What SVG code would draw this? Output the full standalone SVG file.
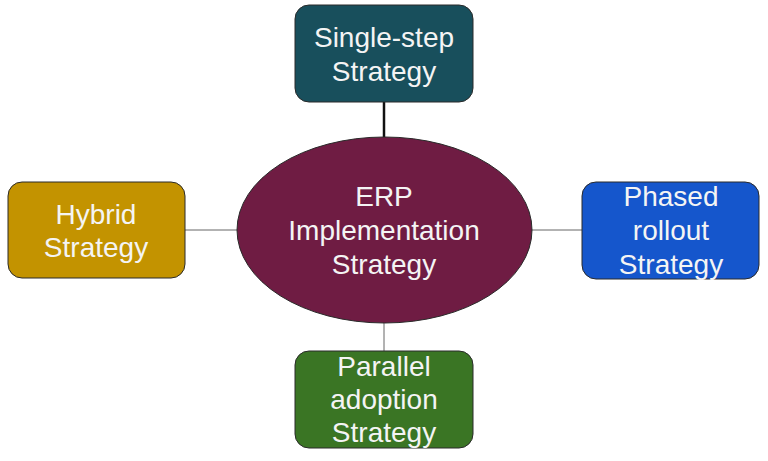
<svg xmlns="http://www.w3.org/2000/svg" width="768" height="461" viewBox="0 0 768 461">
<style>
.box{stroke:#2a2a2a;stroke-width:1}
.t{font-family:"Liberation Sans",Arial,sans-serif;font-size:28px;fill:#f4f4f4;text-anchor:middle}
.thin{stroke:#666;stroke-width:1;fill:none}
</style>
<rect width="768" height="461" fill="#ffffff"/>
<g id="connectors">
<line x1="384" y1="102" x2="384" y2="138" stroke="#111" stroke-width="2.5"/>
<line class="thin" x1="185" y1="230" x2="237" y2="230"/>
<line class="thin" x1="532" y1="230" x2="582" y2="230"/>
<line class="thin" x1="384" y1="322" x2="384" y2="351"/>
</g>
<g id="center">
<ellipse cx="384.5" cy="230" rx="147.5" ry="93" fill="#6f1c43" class="box"/>
<text class="t" x="384" y="206">ERP</text>
<text class="t" x="384" y="240">Implementation</text>
<text class="t" x="384" y="274">Strategy</text>
</g>
<g id="single-step">
<rect x="295" y="5" width="178" height="97" rx="14" fill="#184f5c" class="box"/>
<text class="t" x="384" y="47">Single-step</text>
<text class="t" x="384" y="81">Strategy</text>
</g>
<g id="hybrid">
<rect x="8" y="182" width="177" height="96" rx="14" fill="#c39300" class="box"/>
<text class="t" x="96" y="224">Hybrid</text>
<text class="t" x="96" y="257">Strategy</text>
</g>
<g id="phased">
<rect x="582" y="182" width="177" height="97" rx="14" fill="#1556cc" class="box"/>
<text class="t" x="671" y="206">Phased</text>
<text class="t" x="671" y="240">rollout</text>
<text class="t" x="671" y="274">Strategy</text>
</g>
<g id="parallel">
<rect x="295" y="351" width="178" height="97" rx="14" fill="#3a7524" class="box"/>
<text class="t" x="384" y="376">Parallel</text>
<text class="t" x="384" y="409">adoption</text>
<text class="t" x="384" y="442">Strategy</text>
</g>
</svg>
